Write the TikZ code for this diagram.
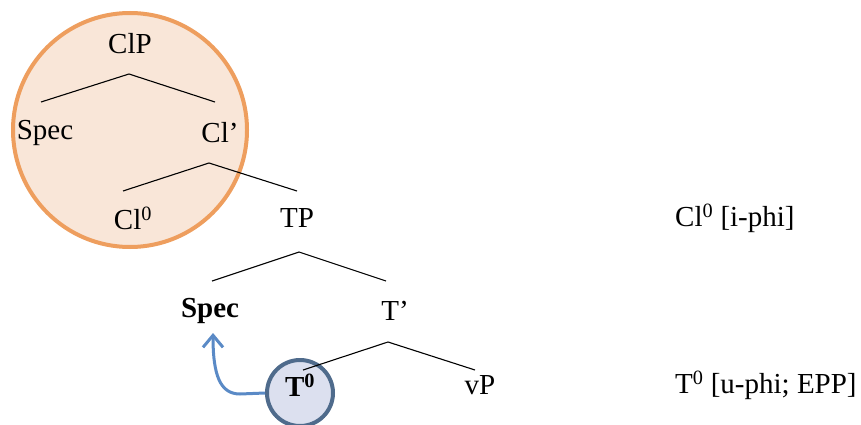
\documentclass[tikz,border=0pt]{standalone}
\usepackage{fontspec}
\setmainfont{Liberation Serif}
\usetikzlibrary{arrows.meta}
\definecolor{orstroke}{HTML}{EE9E5E}
\definecolor{orfill}{HTML}{F9E6D8}
\definecolor{blstroke}{HTML}{4F6B8C}
\definecolor{blfill}{HTML}{DCE0EF}
\definecolor{arrowblue}{HTML}{5A8AC6}
\begin{document}
\begin{tikzpicture}[x=1pt,y=-1pt,
  lbl/.style={inner sep=0pt,font=\fontsize{29}{34}\selectfont},
  branch/.style={line width=1.1pt,black}]
\useasboundingbox (0,0) rectangle (861,425);
% circles
\node[circle,draw=orstroke,fill=orfill,line width=4pt,minimum size=234pt,inner sep=0pt] (clcirc) at (130,130) {};
\node[circle,draw=blstroke,fill=blfill,line width=4pt,minimum size=66pt,inner sep=0pt] (tcirc) at (300,393) {};
% labels
\node[lbl] (clp) at (130,44) {ClP};
\node[lbl] (spec1) at (45,133) {Spec};
\node[lbl] (clbar) at (220,133) {Cl’};
\node[lbl] (cl0) at (133,218) {Cl\textsuperscript{0}};
\node[lbl] (tp) at (297,218) {TP};
\node[lbl] (spec2) at (210,311) {\bfseries Spec};
\node[lbl] (tbar) at (395,311) {T’};
\node[lbl] (t0) at (300,385) {\bfseries T\textsuperscript{0}};
\node[lbl] (vp) at (480,385) {vP};
\node[lbl,anchor=west] (cl0f) at (675,218) {Cl\textsuperscript{0} [i-phi]};
\node[lbl,anchor=west] (t0f) at (675,385) {T\textsuperscript{0} [u-phi; EPP]};
% branch points
\coordinate (a1) at (129,74);  \coordinate (a1l) at (41,102);  \coordinate (a1r) at (215,102);
\coordinate (a2) at (209,163); \coordinate (a2l) at (123,191); \coordinate (a2r) at (297,191);
\coordinate (a3) at (299,252); \coordinate (a3l) at (212,281); \coordinate (a3r) at (386,281);
\coordinate (a4) at (388,342); \coordinate (a4l) at (303,370); \coordinate (a4r) at (475,370);
\draw[branch] (a1l) -- (a1) -- (a1r);
\draw[branch] (a2l) -- (a2) -- (a2r);
\draw[branch] (a3l) -- (a3) -- (a3r);
\draw[branch] (a4l) -- (a4) -- (a4r);
% movement arrow
\coordinate (bend) at (240,394);
\coordinate (tip) at (213,333);
\draw[arrowblue,line width=3pt,-{Straight Barb[length=12pt,width=20pt,line width=3pt]}]
  (tcirc.west) -- (bend) .. controls (220,394) and (213,375) .. (tip);
\end{tikzpicture}
\end{document}
